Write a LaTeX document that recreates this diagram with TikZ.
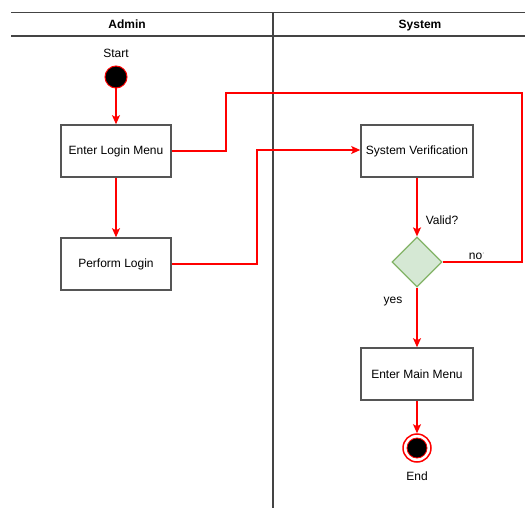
\documentclass[tikz,border=0pt]{standalone}
\usepackage{fontspec}
\setmainfont{Liberation Sans}
\usetikzlibrary{shapes.geometric,arrows.meta}
\definecolor{linered}{HTML}{FF0000}
\definecolor{boxgray}{HTML}{555555}
\definecolor{lanegray}{HTML}{444444}
\definecolor{decfill}{HTML}{D5E8D4}
\definecolor{decdraw}{HTML}{82B366}
\tikzset{
  actbox/.style={draw=boxgray, line width=1.6pt, fill=white, minimum width=110pt, minimum height=52pt, inner sep=0pt, font=\fontsize{12}{14}\selectfont},
  flow/.style={draw=linered, line width=1.5pt, -{Stealth[length=9pt,width=8pt,inset=2pt]}},
  plain/.style={draw=linered, line width=1.5pt},
  lbl/.style={font=\fontsize{12}{14}\selectfont, inner sep=0pt},
  hdr/.style={font=\bfseries\fontsize{12}{14}\selectfont, inner sep=0pt, anchor=base},
  lane/.style={draw=lanegray, line width=1.6pt},
  decision/.style={diamond, draw=decdraw, fill=decfill, line width=1.3pt, minimum width=50pt, minimum height=50pt, inner sep=0pt},
}
\begin{document}
\begin{tikzpicture}[x=1pt,y=-1pt]
\useasboundingbox[fill=white] (0,0) rectangle (525,508);
% swimlanes
\draw[lane] (11,12.5) -- (525,12.5);
\draw[lane] (11,36) -- (525,36);
\draw[lane] (273,12.5) -- (273,508);
\node[hdr] (hadmin) at (127,28.5) {Admin};
\node[hdr] (hsystem) at (420,28.5) {System};
% nodes
\node[lbl] (startlbl) at (116,53) {Start};
\node[circle, fill=black, draw=linered, line width=1pt, minimum size=22pt, inner sep=0pt] (start) at (116,77) {};
\node[actbox] (login) at (116,151) {Enter Login Menu};
\node[actbox] (perform) at (116,264) {Perform Login};
\node[actbox, minimum width=112pt] (verify) at (417,151) {System Verification};
\node[decision] (dec) at (417,262) {};
\node[actbox, minimum width=112pt] (mainmenu) at (417,374) {Enter Main Menu};
\node[circle, draw=linered, fill=white, line width=1.5pt, minimum size=28pt, inner sep=0pt] (endnode) at (417,448) {};
\node[circle, fill=black, draw=linered, line width=0.8pt, minimum size=20pt, inner sep=0pt] (endin) at (endnode.center) {};
\node[lbl] (endlbl) at (417,476) {End};
\node[lbl] (validlbl) at (442,220) {Valid?};
\node[lbl] (nolbl) at (477,256) {no$^{\cdot}$};
\node[lbl] (yeslbl) at (393,302) {yes};
% connectors
\coordinate (c1) at (226,151);
\coordinate (c2) at (226,93);
\coordinate (c3) at (522,93);
\coordinate (c4) at (522,262);
\draw[flow] (start) -- (login);
\draw[flow] (login) -- (perform);
\draw[plain] (dec.east) -- (c4) -- (c3) -- (c2) -- (c1) -- (login.east);
\coordinate (p1) at (257,264);
\coordinate (p2) at (257,150);
\draw[flow] (perform.east) -- (p1) -- (p2) -- (verify.west |- p2);
\draw[flow] (verify) -- (dec.north);
\draw[flow] (dec.south) -- (mainmenu);
\draw[flow] (mainmenu) -- (endnode);
\end{tikzpicture}
\end{document}
